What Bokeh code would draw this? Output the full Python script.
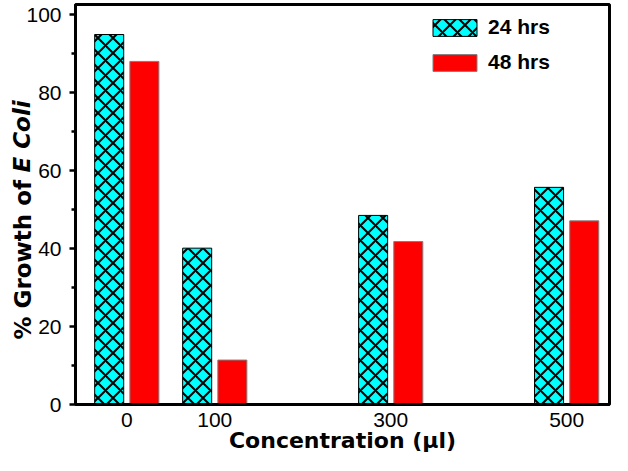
from bokeh.plotting import figure
from bokeh.models import ColumnDataSource, FixedTicker, Legend, LegendItem, Range1d, Title
from bokeh.transform import dodge
from bokeh.embed import file_html
from bokeh.resources import INLINE

# ---- data ----
concentrations = [0, 100, 300, 500]
tick_labels = ["0", "100", "300", "500"]
growth_24h = [94.9, 40.1, 48.5, 55.7]
growth_48h = [88.0, 11.4, 41.8, 47.1]
series_names = ["24 hrs", "48 hrs"]
y_ticks = [0, 20, 40, 60, 80, 100]
y_minor = [10, 30, 50, 70, 90]

FONT = "Liberation Sans"
LABEL_FONT = "DejaVu Sans"

source = ColumnDataSource(dict(x=concentrations, g24=growth_24h, g48=growth_48h))

p = figure(width=612, height=455, output_backend="svg", toolbar_location=None,
           x_range=Range1d(-58.3, 548.7), y_range=Range1d(0, 102.6),
           min_border_left=75, min_border_right=3, min_border_top=4, min_border_bottom=50)

r24 = p.vbar(x=dodge("x", -20, range=p.x_range), top="g24", width=33, source=source,
             fill_color="#00FFFF", line_color="black", line_width=1,
             hatch_pattern="diagonal_cross", hatch_color="black",
             hatch_scale=15, hatch_weight=2)
r48 = p.vbar(x=dodge("x", 20, range=p.x_range), top="g48", width=33, source=source,
             fill_color="#FF0000", line_color="#808080", line_width=1)

p.xgrid.visible = False
p.ygrid.visible = False
p.outline_line_color = "black"
p.outline_line_width = 3
p.background_fill_color = "white"
p.border_fill_color = "white"

# x axis
xa = p.xaxis[0]
xa.ticker = FixedTicker(ticks=concentrations)
xa.major_label_overrides = {c: t for c, t in zip(concentrations, tick_labels)}
xa.major_tick_line_color = None
xa.minor_tick_line_color = None
xa.axis_line_width = 3
xa.axis_line_color = "black"
xa.major_label_text_font = FONT
xa.major_label_text_font_size = "21px"
xa.major_label_text_color = "black"
xa.major_label_standoff = 2
xa.axis_label = "Concentration (\u03bcl)"
xa.axis_label_text_font = LABEL_FONT
xa.axis_label_text_font_size = "22px"
xa.axis_label_text_font_style = "bold"
xa.axis_label_text_color = "black"
xa.axis_label_standoff = -2

# y axis
ya = p.yaxis[0]
ya.ticker = FixedTicker(ticks=y_ticks, minor_ticks=y_minor)
ya.axis_line_width = 3
ya.axis_line_color = "black"
ya.major_tick_line_width = 2.5
ya.major_tick_in = 0
ya.major_tick_out = 6
ya.minor_tick_line_width = 2.5
ya.minor_tick_in = 0
ya.minor_tick_out = 4
ya.major_label_text_font = FONT
ya.major_label_text_font_size = "21px"
ya.major_label_text_color = "black"
ya.major_label_standoff = 8

# y label with italic species name (two zero-width side titles)
p.add_layout(Title(text="% Growth of", align="left", vertical_align="middle",
                   offset=65, standoff=-27,
                   text_font=LABEL_FONT, text_font_size="23px", text_font_style="bold",
                   text_color="black"), "left")
p.add_layout(Title(text="E Coli", align="left", vertical_align="middle",
                   offset=232, standoff=-27,
                   text_font=LABEL_FONT, text_font_size="23px", text_font_style="bold italic",
                   text_color="black"), "left")

legend = Legend(items=[LegendItem(label=series_names[0], renderers=[r24]),
                       LegendItem(label=series_names[1], renderers=[r48])],
                location=(352, 330), padding=0, margin=0, spacing=11,
                glyph_width=55, glyph_height=21, label_standoff=6, label_height=21,
                label_text_font=FONT, label_text_font_size="21px",
                label_text_font_style="bold", label_text_color="black",
                border_line_color=None, background_fill_alpha=0)
p.add_layout(legend)

open("out.html", "w").write(file_html(p, INLINE))
